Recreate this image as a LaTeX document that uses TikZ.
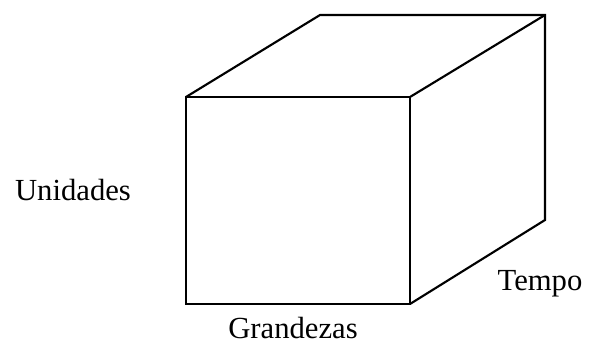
\documentclass[tikz,border=0pt]{standalone}
\usepackage{fontspec}
\setmainfont{Liberation Serif}
\begin{document}
\begin{tikzpicture}[x=0.75pt, y=-0.75pt,
  edge/.style={line width=1.6pt, line join=miter},
  thinedge/.style={line width=0.8pt},
  lbl/.style={font=\fontsize{23}{27}\selectfont, inner sep=0pt}]
\useasboundingbox (0,0) rectangle (593,345);
% corners of the box
\coordinate (fa) at (186,97);  \coordinate (fb) at (410,97);
\coordinate (fc) at (410,304); \coordinate (fd) at (186,304);
\coordinate (ba) at (320,15);  \coordinate (bb) at (545,15);
\coordinate (bc) at (545,220);
\coordinate (ga) at (186,160); \coordinate (gb) at (186,257);
% front face
\draw[edge] (ga) -- (fa) -- (fb) -- (fc) -- (fd) -- (gb);
\draw[thinedge] (ga) -- (gb);
% top and side
\draw[edge] (fa) -- (ba) -- (bb) -- (bc) -- (fc);
\draw[edge] (fb) -- (bb);
% axis names
\node[lbl] (uni) at (73,190) {Unidades};
\node[lbl] (gra) at (293,328) {Grandezas};
\node[lbl] (tem) at (540,284) {Tempo};
\end{tikzpicture}
\end{document}
